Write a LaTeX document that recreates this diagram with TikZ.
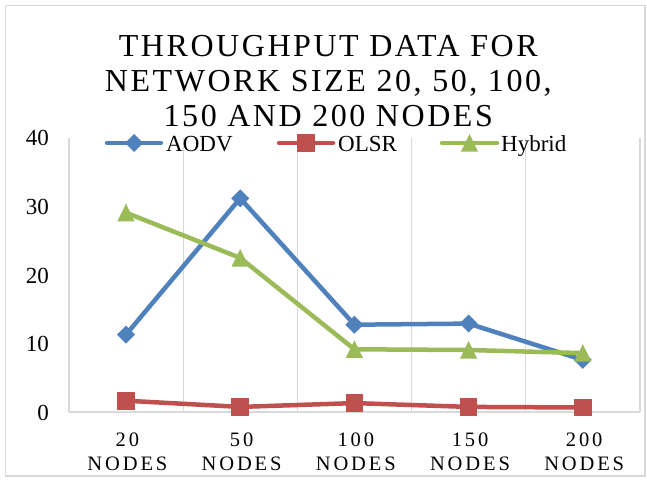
\documentclass[tikz,border=0pt]{standalone}
\usepackage{fontspec}
\setmainfont{Liberation Serif}
\newfontfamily\titlefont[LetterSpace=8]{Liberation Serif}
\newfontfamily\catfont[LetterSpace=14]{Liberation Serif}
\definecolor{aodv}{HTML}{4F81BD}
\definecolor{olsr}{HTML}{C0504D}
\definecolor{hybrid}{HTML}{9BBB59}
\definecolor{gridgray}{HTML}{D9D9D9}
\begin{document}
\begin{tikzpicture}[x=1pt,y=-1pt,
  gridline/.style={draw=gridgray,line width=1.3pt},
  series/.style={line width=4.5pt,line join=round,line cap=round},
  titletext/.style={inner sep=0pt,anchor=base,xshift=1.3pt,
    font=\titlefont\fontsize{32}{35}\selectfont},
  cattext/.style={inner sep=0pt,anchor=base,xshift=1.4pt,
    font=\catfont\fontsize{20.5}{24}\selectfont},
  ticktext/.style={inner sep=0pt,anchor=base east,font=\fontsize{23}{27}\selectfont},
  legtext/.style={inner sep=0pt,anchor=base west,font=\fontsize{23}{27}\selectfont},
  pics/dmk/.style={code={\fill (0,-9) -- (9,0) -- (0,9) -- (-9,0) -- cycle;}},
  pics/smk/.style={code={\fill (-8.8,-8.8) rectangle (8.8,8.8);}},
  pics/tmk/.style={code={\fill (0,-9) -- (8.6,8.6) -- (-8.6,8.6) -- cycle;}},
]
\useasboundingbox (0,0) rectangle (647,481);
\fill[white] (0,0) rectangle (647,481);
% chart frame
\draw[gridgray,line width=1.3pt] (5.5,5.5) rectangle (645,476);

% title
\node[titletext] (title1) at (327,56.7) {THROUGHPUT DATA FOR};
\node[titletext] (title2) at (327,91.5) {NETWORK SIZE 20, 50, 100,};
\node[titletext] (title3) at (327,126.5) {150 AND 200 NODES};

% vertical gridlines and category axis
\foreach \gx in {69,183.2,297.4,411.6,525.8,640}
  \draw[gridline] (\gx,138) -- (\gx,412);
\draw[gridline] (69,412) -- (640,412);

% value axis labels
\node[ticktext] (y40) at (49,146) {40};
\node[ticktext] (y30) at (49,214.5) {30};
\node[ticktext] (y20) at (49,283) {20};
\node[ticktext] (y10) at (49,351.5) {10};
\node[ticktext] (y0)  at (49,420) {0};

% category labels
\foreach \cx/\cn/\cl in {126/1/20,240.2/2/50,354.4/3/100,468.6/4/150,582.8/5/200}{
  \node[cattext] (cat\cn a) at (\cx,446) {\cl};
  \node[cattext] (cat\cn b) at (\cx,470.5) {NODES};
}

% data points
\coordinate (a1) at (126,334.6);
\coordinate (a2) at (240.2,198.3);
\coordinate (a3) at (354.4,324.7);
\coordinate (a4) at (468.6,323.6);
\coordinate (a5) at (582.8,359.9);
\coordinate (o1) at (126,400.7);
\coordinate (o2) at (240.2,406.9);
\coordinate (o3) at (354.4,403.1);
\coordinate (o4) at (468.6,406.9);
\coordinate (o5) at (582.8,407.5);
\coordinate (h1) at (126,212.7);
\coordinate (h2) at (240.2,257.9);
\coordinate (h3) at (354.4,349.3);
\coordinate (h4) at (468.6,350.0);
\coordinate (h5) at (582.8,353.1);

% AODV
\draw[series,aodv] (a1) -- (a2) -- (a3) -- (a4) -- (a5);
\foreach \p in {a1,a2,a3,a4,a5} \pic[color=aodv] at (\p) {dmk};
% OLSR
\draw[series,olsr] (o1) -- (o2) -- (o3) -- (o4) -- (o5);
\foreach \p in {o1,o2,o3,o4,o5} \pic[color=olsr] at (\p) {smk};
% Hybrid
\draw[series,hybrid] (h1) -- (h2) -- (h3) -- (h4) -- (h5);
\foreach \p in {h1,h2,h3,h4,h5} \pic[color=hybrid] at (\p) {tmk};

% legend
\coordinate (la0) at (107,143);
\coordinate (la1) at (161,143);
\coordinate (lo0) at (279,143);
\coordinate (lo1) at (333,143);
\coordinate (lh0) at (442,143);
\coordinate (lh1) at (497,143);
\draw[series,aodv] (la0) -- (la1);
\pic[color=aodv] at (134,143) {dmk};
\node[legtext] (lega) at (166,151.5) {AODV};
\draw[series,olsr] (lo0) -- (lo1);
\pic[color=olsr] at (306,143) {smk};
\node[legtext] (lego) at (338,151.5) {OLSR};
\draw[series,hybrid] (lh0) -- (lh1);
\pic[color=hybrid] at (469.5,143) {tmk};
\node[legtext] (legh) at (501,151.5) {Hybrid};
\end{tikzpicture}
\end{document}
